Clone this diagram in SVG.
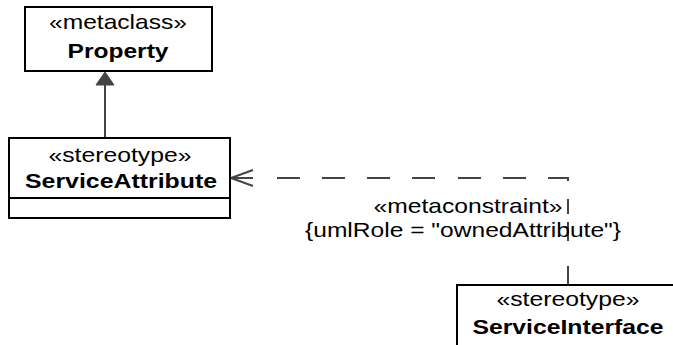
<svg xmlns="http://www.w3.org/2000/svg" width="673" height="345" viewBox="0 0 673 345">
<style>
.box{fill:#fff;stroke:#000;stroke-width:2}
.t{font-family:"Liberation Sans",Arial,sans-serif;font-size:21px;fill:#000;text-anchor:middle}
.b{font-weight:bold}
.edge{fill:none;stroke:#444;stroke-width:2}
.dash{fill:none;stroke:#444;stroke-width:2}
</style>
<rect width="673" height="345" fill="#fff"/>
<g id="connectors">
  <line class="edge" x1="105" y1="138" x2="105" y2="84"/>
  <polygon points="105,72 96,85 114,85" fill="#444" stroke="#444" stroke-width="1"/>
  <path class="dash" d="M230,178 H253 M277,178 H300 M322,178 H345 M367,178 H390 M412,178 H435 M458,178 H481 M503,178 H526 M548,178 H568 V181 M568,199 V214 M568,222 V241 M568,266 V286"/>
  <path class="edge" d="M253,170 L231,178 L253,186"/>
  <text class="t" x="468" y="213" textLength="189" lengthAdjust="spacingAndGlyphs">«metaconstraint»</text>
  <text class="t" x="463" y="237" textLength="316" lengthAdjust="spacingAndGlyphs">{umlRole = "ownedAttribute"}</text>
</g>
<g id="Property">
  <rect class="box" x="25" y="7" width="187" height="64"/>
  <text class="t" x="118" y="29" textLength="138" lengthAdjust="spacingAndGlyphs">«metaclass»</text>
  <text class="t b" x="118" y="58" textLength="101" lengthAdjust="spacingAndGlyphs">Property</text>
</g>
<g id="ServiceAttribute">
  <rect class="box" x="9" y="138" width="221" height="80"/>
  <line x1="9" y1="198" x2="230" y2="198" stroke="#000" stroke-width="2"/>
  <text class="t" x="120" y="162" textLength="143" lengthAdjust="spacingAndGlyphs">«stereotype»</text>
  <text class="t b" x="121" y="188" textLength="192" lengthAdjust="spacingAndGlyphs">ServiceAttribute</text>
</g>
<g id="ServiceInterface">
  <rect class="box" x="457" y="285" width="240" height="100"/>
  <text class="t" x="568" y="306" textLength="143" lengthAdjust="spacingAndGlyphs">«stereotype»</text>
  <text class="t b" x="568" y="334" textLength="191" lengthAdjust="spacingAndGlyphs">ServiceInterface</text>
</g>
</svg>
